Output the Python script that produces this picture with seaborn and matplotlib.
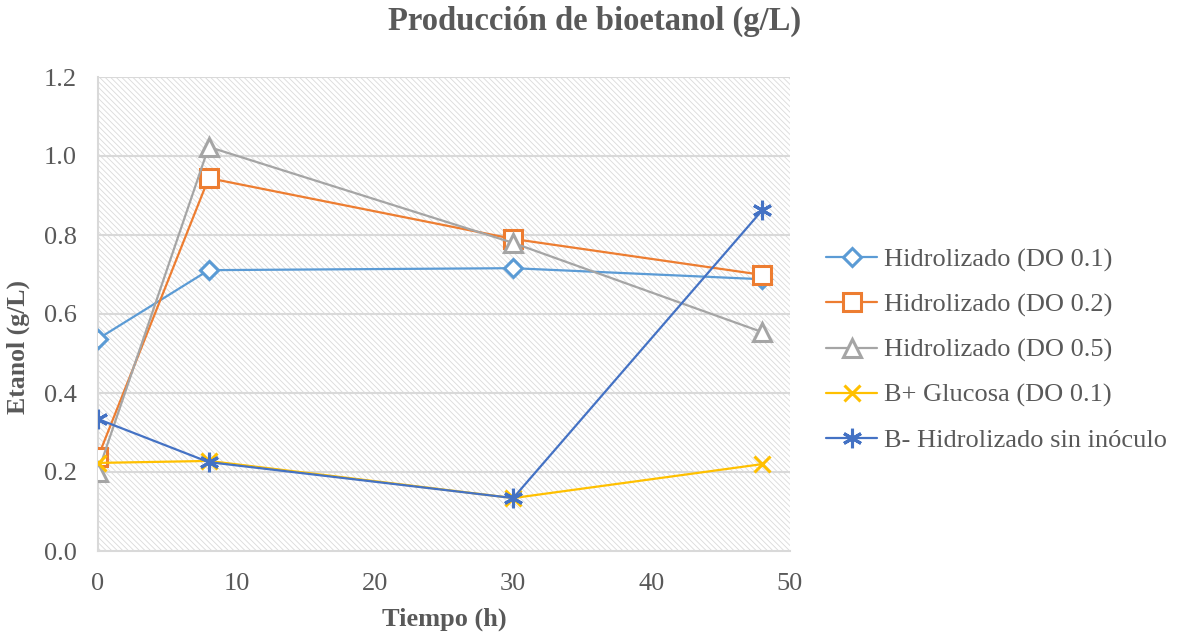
import matplotlib
matplotlib.use("Agg")
import matplotlib.pyplot as plt
import seaborn as sns
import pandas as pd
from matplotlib.patches import Rectangle

sns.set_theme(style="white")
plt.rcParams['font.family'] = ['Liberation Serif', 'DejaVu Serif']
plt.rcParams['hatch.linewidth'] = 0.6
plt.rcParams['hatch.color'] = '#dadada'

tiempo = [0, 8, 30, 48]
do01 = [0.537, 0.711, 0.716, 0.688]
do02 = [0.238, 0.944, 0.790, 0.699]
do05 = [0.200, 1.023, 0.780, 0.554]
bplus = [0.223, 0.228, 0.134, 0.220]
bminus = [0.334, 0.225, 0.134, 0.863]

labels = ["Hidrolizado (DO 0.1)", "Hidrolizado (DO 0.2)", "Hidrolizado (DO 0.5)",
          "B+ Glucosa (DO 0.1)", "B- Hidrolizado sin inóculo"]
series = [do01, do02, do05, bplus, bminus]
colors = ["#5B9BD5", "#ED7D31", "#A5A5A5", "#FFC000", "#4472C4"]
markers = ["D", "s", "^", "x", (6, 2, 0)]
msizes = [9, 13, 13, 11, 14]
mfc = ["white", "white", "white", None, None]

fig = plt.figure(figsize=(11.78, 6.38), dpi=100)
ax = fig.add_axes([98/1178, 1 - 551/638, (790-98)/1178, (551-77)/638])

ax.add_patch(Rectangle((0, 0), 1, 1, transform=ax.transAxes, facecolor='white',
                       hatch='\\' * 6, edgecolor='#dadada', linewidth=0, zorder=0))

for y in [0.2, 0.4, 0.6, 0.8, 1.0, 1.2]:
    ax.axhline(y, color='#d9d9d9', linewidth=1.5, zorder=1)

for lab, vals, c, m, ms, fc in zip(labels, series, colors, markers, msizes, mfc):
    df = pd.DataFrame({"t": tiempo, "v": vals})
    kw = dict(markerfacecolor=fc) if fc else {}
    sns.lineplot(data=df, x="t", y="v", ax=ax, color=c, marker=m, markersize=ms,
                 markeredgecolor=c, markeredgewidth=2.2,
                 linewidth=1.6, label=lab, zorder=3, **kw)

ax.set_xlim(0, 50)
ax.set_ylim(0, 1.2)
ax.set_xticks([0, 10, 20, 30, 40, 50])
ax.set_yticks([0, 0.2, 0.4, 0.6, 0.8, 1.0, 1.2])
ax.set_yticklabels(["0.0", "0.2", "0.4", "0.6", "0.8", "1.0", "1.2"])
ax.tick_params(axis='both', labelsize=19, labelcolor='#595959', length=0)
ax.tick_params(axis='y', pad=15)
ax.tick_params(axis='x', pad=16)
for s in ['top', 'right']:
    ax.spines[s].set_visible(False)
ax.spines['left'].set_color('#d9d9d9')
ax.spines['bottom'].set_color('#d9d9d9')
ax.spines['left'].set_linewidth(1.5)
ax.spines['bottom'].set_linewidth(1.5)

ax.set_xlabel("Tiempo (h)", fontsize=19, fontweight='bold', color='#595959')
ax.xaxis.set_label_coords((444-98)/(790-98), -(608-551)/(551-77))
ax.set_ylabel("Etanol (g/L)", fontsize=18.5, fontweight='bold', color='#595959')
ax.yaxis.set_label_coords(-(98-30)/(790-98), (551-347)/(551-77))
fig.text(595/1178, 1 - 21/638, "Producción de bioetanol (g/L)", fontsize=23.5,
         fontweight='bold', color='#595959', ha='center', va='center')

h, l = ax.get_legend_handles_labels()
ax.legend_.remove()
leg = fig.legend(h, l, loc='center left', bbox_to_anchor=(818/1178, 1 - 350/638),
                 frameon=False, fontsize=19, handlelength=1.95, labelspacing=0.8,
                 handletextpad=0.25, borderaxespad=0, borderpad=0.3)
for t in leg.get_texts():
    t.set_color('#595959')

fig.savefig("out.png", dpi=100)
